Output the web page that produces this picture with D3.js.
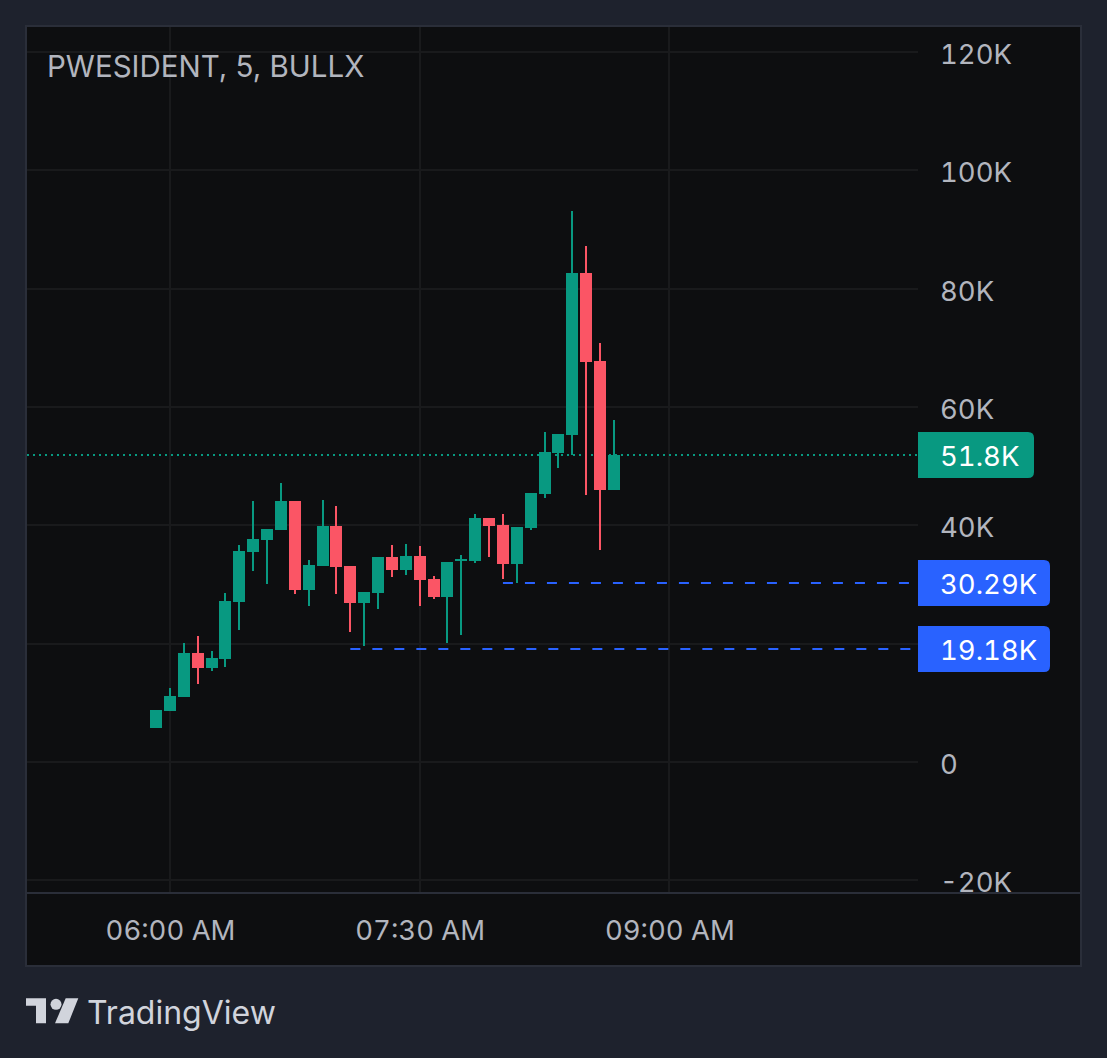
<!DOCTYPE html>
<html>
<head>
<meta charset="utf-8">
<script src="https://cdn.jsdelivr.net/npm/d3@7"></script>
<style>
  html, body { margin: 0; padding: 0; background: #1e222d; }
  svg { display: block; }
  text { font-family: Inter, "Noto Sans", sans-serif; }
</style>
</head>
<body>
<svg width="1107" height="1058"></svg>
<script>
// prices in thousands, one candle every 5 minutes from 05:55
const opens  = [5.75, 8.62, 10.99, 18.42, 15.89, 17.41, 27.04, 35.49, 37.52, 39.21, 44.11, 29.07, 33.12, 39.89, 33.12, 26.87, 28.56, 34.65, 32.45, 34.81, 30.93, 27.89, 33.97, 33.97, 41.24, 40.05, 33.46, 39.55, 45.29, 52.22, 55.26, 82.64, 67.77, 45.97];
const highs  = [8.79, 12.51, 20.11, 21.29, 18.76, 28.56, 36.67, 44.11, 39.38, 47.15, 44.11, 34.14, 44.28, 43.27, 33.12, 28.73, 34.65, 36.67, 36.84, 36.50, 31.43, 33.80, 34.98, 41.91, 41.24, 41.91, 39.72, 45.46, 55.77, 55.43, 93.12, 87.21, 70.81, 57.80];
const lows   = [5.75, 8.62, 10.99, 13.18, 15.38, 16.06, 22.31, 32.28, 30.08, 39.21, 28.39, 26.36, 33.12, 28.39, 21.97, 19.60, 25.86, 31.27, 31.60, 26.36, 27.55, 20.11, 21.46, 33.63, 34.65, 30.93, 30.25, 39.21, 44.62, 49.69, 51.88, 45.12, 35.83, 45.97];
const closes = [8.79, 11.15, 18.42, 15.89, 17.58, 27.21, 35.66, 37.69, 39.38, 44.11, 29.07, 33.29, 39.89, 32.96, 26.87, 28.73, 34.65, 32.45, 34.81, 30.76, 27.89, 33.80, 34.31, 41.24, 39.89, 33.46, 39.72, 45.46, 52.39, 55.43, 82.64, 67.60, 45.97, 51.84];

const yTicks = [-20, 0, 20, 40, 60, 80, 100, 120];
const yLabelTicks = [-20, 0, 40, 60, 80, 100, 120]; // 20K is covered by the order tag
const timeTicks = ["06:00", "07:30", "09:00"];

const lastPrice = 51.84;
const lastLabel = "51.8K";
const orderPrices = [30.29, 19.18];
const orderLabels = ["30.29K", "19.18K"];
const orderStarts = [25, 14]; // candle index where each line begins

const title = "PWESIDENT, 5, BULLX";

const UP = "#089981", DOWN = "#fb5565", BLUE = "#2962ff";
const TEXT = "#b2b5be", GRID = "#191a1c", BORDER = "#2a2e39";

const svg = d3.select("svg");
const parseTime = d3.utcParse("%H:%M");
const candleTime = i => d3.utcMinute.offset(parseTime("05:55"), i * 5);

const paneLeft = 26, paneRight = 1081, paneTop = 26, paneBottom = 966;
const plotRight = 918, plotBottom = 893;

const x = d3.scaleUtc()
  .domain([parseTime("06:00"), parseTime("09:00")])
  .range([170, 669.4]);
const y = d3.scaleLinear()
  .domain([-20, 120])
  .range([880.35, 52]);

// panel
svg.append("rect")
  .attr("x", paneLeft).attr("y", paneTop)
  .attr("width", paneRight - paneLeft).attr("height", paneBottom - paneTop)
  .attr("fill", "#0d0e10")
  .attr("stroke", BORDER).attr("stroke-width", 2);

// grid lines
const crisp = v => Math.round(v);
svg.append("g").selectAll("line")
  .data(yTicks)
  .join("line")
  .attr("x1", paneLeft + 1).attr("x2", plotRight)
  .attr("y1", d => crisp(y(d))).attr("y2", d => crisp(y(d)))
  .attr("stroke", GRID).attr("stroke-width", 2);
svg.append("g").selectAll("line")
  .data(timeTicks)
  .join("line")
  .attr("x1", d => crisp(x(parseTime(d)))).attr("x2", d => crisp(x(parseTime(d))))
  .attr("y1", paneTop + 1).attr("y2", plotBottom)
  .attr("stroke", GRID).attr("stroke-width", 2);

svg.append("line")
  .attr("x1", paneLeft).attr("x2", paneRight)
  .attr("y1", plotBottom).attr("y2", plotBottom)
  .attr("stroke", BORDER).attr("stroke-width", 2);

// last price line sits under the candles
svg.append("line")
  .attr("x1", paneLeft + 1).attr("x2", plotRight)
  .attr("y1", crisp(y(lastPrice))).attr("y2", crisp(y(lastPrice)))
  .attr("stroke", UP).attr("stroke-width", 2)
  .attr("stroke-dasharray", "2 4");

// candles
const candles = opens.map((o, i) => ({ t: candleTime(i), o, h: highs[i], l: lows[i], c: closes[i] }));
const color = d => d.c >= d.o ? UP : DOWN;
const g = svg.append("g").attr("shape-rendering", "crispEdges");

g.selectAll(".wick")
  .data(candles)
  .join("rect")
  .attr("class", "wick")
  .attr("x", d => Math.round(x(d.t)) - 1)
  .attr("width", 2)
  .attr("y", d => y(d.h))
  .attr("height", d => y(d.l) - y(d.h))
  .attr("fill", color);

g.selectAll(".body")
  .data(candles)
  .join("rect")
  .attr("class", "body")
  .attr("x", d => Math.round(x(d.t)) - 6)
  .attr("width", 12)
  .attr("y", d => y(Math.max(d.o, d.c)))
  .attr("height", d => Math.max(2, Math.abs(y(d.o) - y(d.c))))
  .attr("fill", color);

// order lines
svg.append("g").selectAll("line")
  .data(orderPrices)
  .join("line")
  .attr("x1", (d, i) => x(candleTime(orderStarts[i])))
  .attr("x2", plotRight)
  .attr("y1", d => crisp(y(d))).attr("y2", d => crisp(y(d)))
  .attr("stroke", BLUE).attr("stroke-width", 2)
  .attr("stroke-dasharray", "10 12");

// axes
const yAxis = d3.axisRight(y)
  .tickValues(yLabelTicks)
  .tickSize(0)
  .tickPadding(22)
  .tickFormat(d => d === 0 ? "0" : d + "K");
const xAxis = d3.axisBottom(x)
  .tickValues(timeTicks.map(parseTime))
  .tickSize(0)
  .tickPadding(27)
  .tickFormat(d3.utcFormat("%I:%M %p"));

svg.append("g")
  .attr("transform", `translate(${plotRight},0)`)
  .call(yAxis)
  .call(a => a.select(".domain").remove())
  .selectAll("text")
  .attr("dy", "0.42em")
  .attr("font-size", 27.5).attr("fill", TEXT)
  .style("font-family", "Inter, sans-serif")
  .style("font-variant-numeric", "tabular-nums");

svg.append("g")
  .attr("transform", `translate(0,${plotBottom})`)
  .call(xAxis)
  .call(a => a.select(".domain").remove())
  .selectAll("text")
  .attr("font-size", 27.5).attr("fill", TEXT)
  .style("font-family", "Inter, sans-serif")
  .style("font-variant-numeric", "tabular-nums");

// price tags with rounded right corners
const tagPath = (top, right) => {
  const bottom = top + 46, r = 6;
  return `M${plotRight},${top}H${right - r}Q${right},${top} ${right},${top + r}V${bottom - r}Q${right},${bottom} ${right - r},${bottom}H${plotRight}Z`;
};
const tags = [
  { v: lastPrice, label: lastLabel, fill: UP, right: 1034 },
  ...orderPrices.map((v, i) => ({ v, label: orderLabels[i], fill: BLUE, right: 1050 }))
];
const tag = svg.append("g").selectAll("g").data(tags).join("g");
tag.append("path")
  .attr("d", d => tagPath(Math.round(y(d.v)) - 23, d.right))
  .attr("fill", d => d.fill);
tag.append("text")
  .attr("x", 940)
  .attr("y", d => Math.round(y(d.v)))
  .attr("dy", "0.4em")
  .attr("font-size", 27.5)
  .attr("fill", "#ffffff")
  .style("font-family", "Inter, sans-serif")
  .style("font-variant-numeric", "tabular-nums")
  .text(d => d.label);

// title
svg.append("text")
  .attr("x", 47).attr("y", 77)
  .attr("font-size", 29.5).attr("fill", TEXT)
  .style("font-family", "Inter, sans-serif")
  .text(title);

// TradingView mark and wordmark
const logo = svg.append("g").attr("fill", "#d1d4dc");
logo.append("path").attr("d", "M26,998.3H46V1023.3H36V1005.7H26Z");
logo.append("circle").attr("cx", 56).attr("cy", 1004.3).attr("r", 5.5);
logo.append("path").attr("d", "M65.7,998.3H78.3L68.3,1023.3H55Z");
logo.append("text")
  .attr("x", 87).attr("y", 1024)
  .attr("font-size", 32).attr("fill", "#d1d4dc")
  .style("font-family", "Inter, sans-serif")
  .text("TradingView");
</script>
</body>
</html>
